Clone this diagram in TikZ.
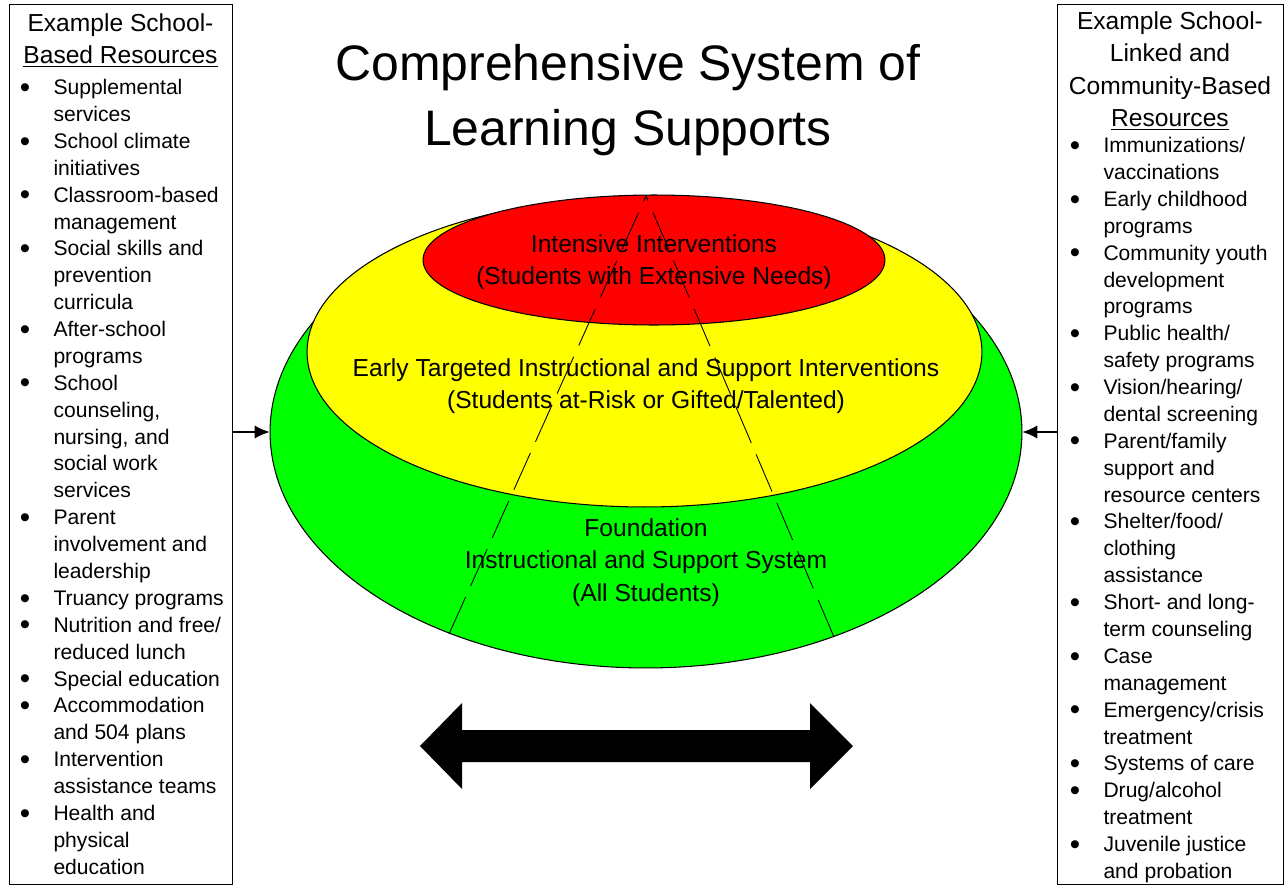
\documentclass[tikz,border=0pt]{standalone}
\usepackage{fontspec}
\setmainfont{Liberation Sans}
\usetikzlibrary{shapes.geometric, arrows.meta, positioning}

\newcommand{\bul}{\makebox[24pt][l]{\hspace{4.8pt}\raisebox{-1.5pt}{\scalebox{1.4}{\textbullet}}}}
\newcommand{\cont}{\hspace*{24pt}}

\begin{document}
\begin{tikzpicture}[x=0.02cm, y=-0.02cm,
  resbox/.style={draw, line width=0.6pt, inner sep=0pt, anchor=north west},
  heading/.style={inner sep=0pt, anchor=north, align=center, font=\fontsize{14}{18.5}\selectfont},
  reslist/.style={inner sep=0pt, anchor=north west, align=left, font=\fontsize{12}{15.3}\selectfont},
  band/.style={ellipse, draw, line width=0.6pt, inner sep=0pt},
  bandtext/.style={inner sep=0pt, anchor=north, align=center, font=\fontsize{14}{18.5}\selectfont},
  feed/.style={-{Latex[length=8.5pt,width=7.5pt]}, line width=0.6pt},
  guide/.style={line width=0.5pt, dash pattern=on 23pt off 7pt}]

\useasboundingbox (0,0) rectangle (1286,886);

% Titel
\node[inner sep=0pt, anchor=north, align=center, font=\fontsize{28.4}{37}\selectfont] (title) at (628,44)
  {Comprehensive System of\\Learning Supports};

% Kaesten links und rechts
\node[resbox, minimum width=4.46cm, minimum height=17.6cm] (school) at (9,4) {};
\node[resbox, minimum width=4.52cm, minimum height=17.6cm] (community) at (1057,4) {};

\node[heading] (schoolhead) at (120.5,13) {Example School-\\\underline{Based Resources}};
\node[reslist] (schoollist) at (11,79) {%
\bul Supplemental\\ \cont services\\
\bul School climate\\ \cont initiatives\\
\bul Classroom-based\\ \cont management\\
\bul Social skills and\\ \cont prevention\\ \cont curricula\\
\bul After-school\\ \cont programs\\
\bul School\\ \cont counseling,\\ \cont nursing, and\\ \cont social work\\ \cont services\\
\bul Parent\\ \cont involvement and\\ \cont leadership\\
\bul Truancy programs\\
\bul Nutrition and free/\\ \cont reduced lunch\\
\bul Special education\\
\bul Accommodation\\ \cont and 504 plans\\
\bul Intervention\\ \cont assistance teams\\
\bul Health and\\ \cont physical\\ \cont education};

\node[heading] (communityhead) at (1170,11) {Example School-\\Linked and\\Community-Based\\\underline{Resources}};
\node[reslist] (communitylist) at (1061,137) {%
\bul Immunizations/\\ \cont vaccinations\\
\bul Early childhood\\ \cont programs\\
\bul Community youth\\ \cont development\\ \cont programs\\
\bul Public health/\\ \cont safety programs\\
\bul Vision/hearing/\\ \cont dental screening\\
\bul Parent/family\\ \cont support and\\ \cont resource centers\\
\bul Shelter/food/\\ \cont clothing\\ \cont assistance\\
\bul Short- and long-\\ \cont term counseling\\
\bul Case\\ \cont management\\
\bul Emergency/crisis\\ \cont treatment\\
\bul Systems of care\\
\bul Drug/alcohol\\ \cont treatment\\
\bul Juvenile justice\\ \cont and probation};

% Ellipsen
\node[band, fill={rgb,255:red,0;green,255;blue,0}, minimum width=15.04cm, minimum height=9.44cm] (foundation) at (646,432) {};
\node[band, fill={rgb,255:red,255;green,255;blue,0}, minimum width=13.5cm, minimum height=6.2cm] (targeted) at (644.5,352) {};
\node[band, fill={rgb,255:red,255;green,0;blue,0}, minimum width=9.24cm, minimum height=2.6cm] (intensive) at (654,260) {};

\node[bandtext] (intensivetext) at (654,234) {Intensive Interventions\\(Students with Extensive Needs)};
\node[bandtext] (targetedtext) at (646,358) {Early Targeted Instructional and Support Interventions\\(Students at-Risk or Gifted/Talented)};
\node[bandtext] (foundationtext) at (646,518) {Foundation\\Instructional and Support System\\(All Students)};

% Pfeile von den Kaesten
\draw[feed] (school.east |- foundation.west) -- (foundation.west);
\draw[feed] (community.west |- foundation.east) -- (foundation.east);

% gestrichelte Linien
\coordinate (apex) at (646,196);
\coordinate (leftfoot) at (449,634);
\coordinate (rightfoot) at (834,637);
\draw[guide] (leftfoot) -- (apex);
\draw[guide] (rightfoot) -- (apex);

% Doppelpfeil
\fill (420,746) -- (462,703) -- (462,730) -- (810,730) -- (810,703) -- (853,746)
  -- (810,789) -- (810,762) -- (462,762) -- (462,789) -- cycle;
\end{tikzpicture}
\end{document}
